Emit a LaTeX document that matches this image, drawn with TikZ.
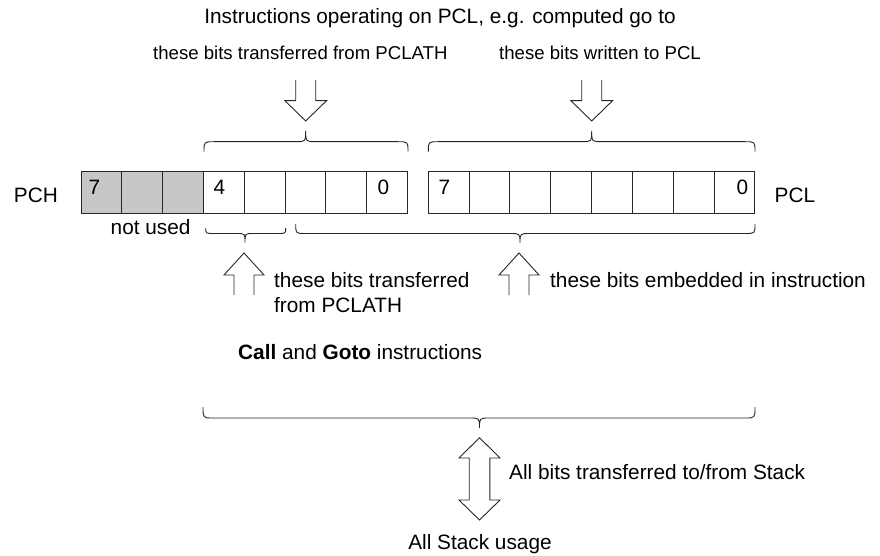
\documentclass[tikz,border=0pt]{standalone}
\usepackage{fontspec}
\setmainfont{Liberation Sans}
\begin{document}
\begin{tikzpicture}[x=1pt,y=-1pt,
  cell/.style={draw=black!85, line width=1pt, minimum width=40.83pt, minimum height=41pt, inner sep=0pt, outer sep=0pt},
  greycell/.style={cell, fill=black!22},
  lbl/.style={inner sep=0pt, anchor=base west, font=\fontsize{20.8}{25}\selectfont},
  smalllbl/.style={inner sep=0pt, anchor=base west, font=\fontsize{18.6}{22}\selectfont},
  brace/.style={draw=black!85, line width=0.9pt},
  blockarrow/.style={draw=black!85, line width=0.9pt, line join=miter, fill=white}]
\useasboundingbox (0,0) rectangle (880,556);

% helper macros
\newcommand{\mybrace}[7]{% x1 x2 xtip yend yline ytip r
  \draw[brace] (#1,#4) .. controls (#1,#5) .. ({#1+#7},#5) -- ({#3-#7},#5)
    .. controls (#3,#5) .. (#3,#6) .. controls (#3,#5) .. ({#3+#7},#5)
    -- ({#2-#7},#5) .. controls (#2,#5) .. (#2,#4);}
\newcommand{\blkdown}[1]{%
  \draw[blockarrow] ({#1-10},80) -- ({#1-10},100.7) -- ({#1-20.8},100.7) -- (#1,121)
    -- ({#1+20.8},100.7) -- ({#1+10},100.7) -- ({#1+10},80);}
\newcommand{\blkup}[1]{%
  \draw[blockarrow] ({#1-10},295) -- ({#1-10},275) -- ({#1-20},275) -- (#1,253)
    -- ({#1+20},275) -- ({#1+10},275) -- ({#1+10},295);}

% registers
\foreach \i in {0,...,7} {
  \pgfmathtruncatemacro{\b}{7-\i}
  \ifnum\i<3
    \node[greycell] (h\b) at ({81+40.83*(\i+0.5)},192.5) {};
  \else
    \node[cell] (h\b) at ({81+40.83*(\i+0.5)},192.5) {};
  \fi
  \node[cell] (l\b) at ({428.3+40.83*(\i+0.5)},192.5) {};
}
\node[lbl] (n7h) at (88.5,194) {7};
\node[lbl] (n4h) at (213.5,194) {4};
\node[lbl, anchor=base east] (n0h) at (389.5,194) {0};
\node[lbl] (n7l) at (438.5,194) {7};
\node[lbl, anchor=base east] (n0l) at (748.5,194) {0};

\node[lbl, anchor=base east] (pch) at (58,203) {PCH};
\node[lbl] (pcl) at (774.5,203) {PCL};
\node[lbl] (notused) at (110.5,234) {not used};

% top
\node[lbl, anchor=base] (title) at (440,24) {Instructions operating on PCL, e.g. computed go to};
\node[smalllbl] (t1) at (153,60) {these bits transferred from PCLATH};
\node[smalllbl] (t2) at (499,60) {these bits written to PCL};
\blkdown{305.7}
\blkdown{591.7}
\mybrace{204}{408}{305.7}{151.7}{141.7}{130.7}{10}
\mybrace{428.3}{755}{591.7}{151.7}{141.7}{130.7}{10}

% below registers
\mybrace{205.7}{285.7}{245}{228}{233.5}{242.5}{8}
\mybrace{295.7}{755}{520}{224}{233.5}{243}{10}
\blkup{244}
\blkup{519}
\node[lbl] (b1) at (274,287) {these bits transferred};
\node[lbl] (b2) at (274,312) {from PCLATH};
\node[lbl] (b3) at (550,287) {these bits embedded in instruction};
\node[lbl] (cg) at (238,359) {\textbf{Call} and \textbf{Goto} instructions};

% stack
\mybrace{203}{755}{479.5}{407}{418}{428}{10}
\draw[blockarrow] (479.5,437.7) -- (500,458) -- (489.8,458) -- (489.8,500) -- (500,500)
  -- (479.5,520) -- (459,500) -- (469.2,500) -- (469.2,458) -- (459,458) -- cycle;
\node[lbl] (st1) at (509,479) {All bits transferred to/from Stack};
\node[lbl, anchor=base] (st2) at (480,549) {All Stack usage};
\end{tikzpicture}
\end{document}
